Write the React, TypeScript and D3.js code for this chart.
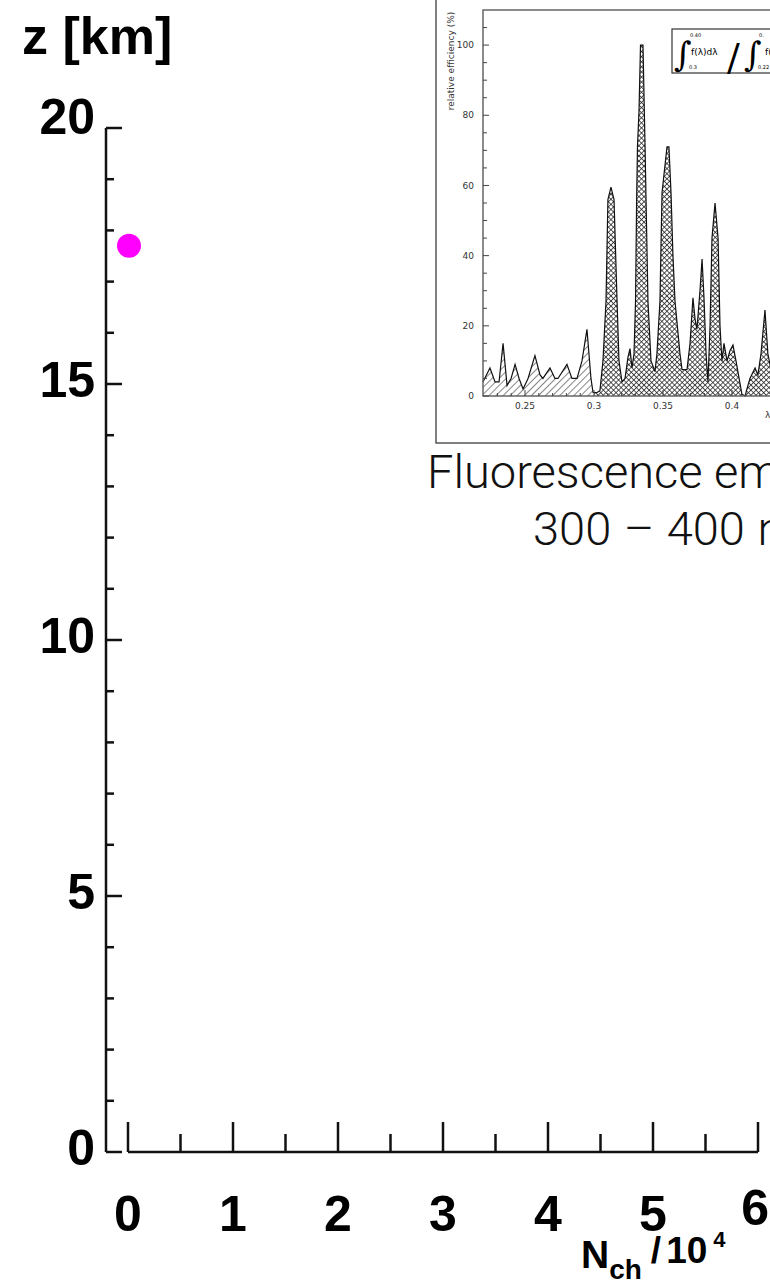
import React, { useEffect, useRef } from "react";
import * as d3 from "d3";

// main chart: altitude vs number of Cherenkov photons
const nchTicks = [0, 1, 2, 3, 4, 5, 6];
const zTicks = [0, 5, 10, 15, 20];
const pointNch = [0.0];
const pointZ = [17.7];

// inset: nitrogen fluorescence spectrum (lambda in um, relative efficiency in %)
const specLambda = [
  0.2195, 0.2246, 0.2283, 0.2312, 0.2341, 0.237, 0.2399, 0.2428, 0.2457, 0.2486,
  0.2522, 0.2572, 0.2609, 0.263, 0.2681, 0.2717, 0.2739, 0.2804, 0.284, 0.2877,
  0.2913, 0.2949, 0.2978, 0.2993, 0.3022, 0.3043, 0.3065, 0.3087, 0.3101, 0.3123,
  0.3145, 0.3167, 0.3181, 0.3203, 0.3225, 0.3246, 0.3261, 0.3275, 0.329, 0.3301,
  0.3309, 0.3315, 0.3326, 0.3337, 0.3355, 0.337, 0.3377, 0.3391, 0.3413, 0.3442,
  0.3456, 0.3478, 0.3493, 0.3529, 0.3543, 0.3558, 0.3572, 0.3587, 0.3623, 0.3638,
  0.3674, 0.3696, 0.3717, 0.3732, 0.3746, 0.3768, 0.3783, 0.3797, 0.3812, 0.3826,
  0.3841, 0.3855, 0.3877, 0.3899, 0.3913, 0.3927, 0.3942, 0.3964, 0.3986, 0.4007,
  0.4029, 0.4072, 0.4094, 0.413, 0.4167, 0.4188, 0.421, 0.4239, 0.426, 0.429,
];
const specEff = [
  4, 8, 4, 4, 15, 3, 5, 9, 5, 2,
  5, 11.5, 6, 5, 8, 5, 5, 9, 5, 5,
  10, 19, 5, 1, 1, 1.5, 10, 27, 56, 59.5,
  56, 27, 10, 4, 5, 11, 13.5, 8, 12, 27,
  56, 71, 81, 100, 100, 71, 56, 27, 10, 7,
  12, 27, 58, 71, 71, 58, 40, 27, 12, 7.5,
  7.5, 15, 28, 22, 19, 30, 39, 28, 12, 4,
  20, 45, 55, 45, 20, 10, 15, 10, 13, 14.5,
  10, 0.5, 0, 5, 8, 6, 12, 24.5, 12, 6,
];
const effTicks = [0, 20, 40, 60, 80, 100];
const lambdaTicks = [0.25, 0.3, 0.35, 0.4];

export default function App() {
  const ref = useRef<SVGSVGElement | null>(null);

  useEffect(() => {
    const svg = d3.select(ref.current);
    svg.selectAll("*").remove();

    const x = d3.scaleLinear().domain([0, 6]).range([128, 758]);
    const y = d3.scaleLinear().domain([0, 20]).range([1152, 128]);

    const bold = "'Liberation Sans', Arial, sans-serif";

    // y axis
    const yAxisX = 106;
    svg.append("line")
      .attr("x1", yAxisX).attr("x2", yAxisX)
      .attr("y1", y(20)).attr("y2", y(0))
      .attr("stroke", "#111").attr("stroke-width", 2.5);
    svg.append("g")
      .selectAll("line")
      .data(d3.range(0, 21, 1))
      .join("line")
      .attr("x1", yAxisX)
      .attr("x2", d => yAxisX + (d % 5 === 0 ? 16 : 8))
      .attr("y1", d => y(d)).attr("y2", d => y(d))
      .attr("stroke", "#111").attr("stroke-width", 2.5);
    svg.append("g")
      .attr("font-family", bold).attr("font-weight", "bold")
      .attr("font-size", 50).attr("text-anchor", "end")
      .selectAll("text")
      .data(zTicks)
      .join("text")
      .attr("x", 95)
      .attr("y", d => y(d) - (d === 20 ? 12 : 5))
      .attr("dy", "0.35em")
      .text(d => d);

    // x axis
    svg.append("line")
      .attr("x1", x(0)).attr("x2", x(6))
      .attr("y1", y(0)).attr("y2", y(0))
      .attr("stroke", "#111").attr("stroke-width", 2.5);
    svg.append("g")
      .selectAll("line")
      .data(d3.range(0, 6.01, 0.5))
      .join("line")
      .attr("x1", d => x(d)).attr("x2", d => x(d))
      .attr("y1", y(0))
      .attr("y2", d => y(0) - (Number.isInteger(d) ? 30 : 18))
      .attr("stroke", "#111").attr("stroke-width", 2.5);
    svg.append("g")
      .attr("font-family", bold).attr("font-weight", "bold")
      .attr("font-size", 50)
      .selectAll("text")
      .data(nchTicks)
      .join("text")
      .attr("text-anchor", d => (d === 6 ? "end" : "middle"))
      .attr("x", d => (d === 6 ? 769 : x(d)))
      .attr("y", d => (d === 6 ? 1225 : 1231))
      .text(d => d);

    // axis titles
    svg.append("text")
      .attr("x", 22).attr("y", 54)
      .attr("font-family", bold).attr("font-weight", "bold")
      .attr("font-size", 52)
      .text("z [km]");

    const xt = svg.append("text")
      .attr("x", 581).attr("y", 1268)
      .attr("font-family", bold).attr("font-weight", "bold")
      .attr("font-size", 39);
    xt.append("tspan").text("N");
    xt.append("tspan").attr("font-size", 28).attr("dy", 11).text("ch");
    xt.append("tspan").attr("font-size", 37).attr("dy", -16).attr("dx", 9).text("/");
    xt.append("tspan").attr("font-size", 37).attr("dx", 5).text("10");
    xt.append("tspan").attr("font-size", 22).attr("dy", -16).attr("dx", 6).text("4");

    // data point
    svg.append("g")
      .selectAll("circle")
      .data(pointNch.map((n, i) => ({ n, z: pointZ[i] })))
      .join("circle")
      .attr("cx", d => x(d.n) + 1)
      .attr("cy", d => y(d.z))
      .attr("r", 12)
      .attr("fill", "#ff00ff");

    // ---- inset spectrum ----
    const xIn = d3.scaleLinear().domain([0.25, 0.4]).range([525, 732]);
    const yIn = d3.scaleLinear().domain([0, 110]).range([396, 10]);
    const left = 483;
    const insetFont = "'DejaVu Sans', sans-serif";

    const defs = svg.append("defs");
    const diag = defs.append("pattern")
      .attr("id", "diag").attr("patternUnits", "userSpaceOnUse")
      .attr("width", 5).attr("height", 5)
      .attr("patternTransform", "rotate(45)");
    diag.append("line")
      .attr("x1", 0).attr("y1", 0).attr("x2", 0).attr("y2", 5)
      .attr("stroke", "#333").attr("stroke-width", 1.2);
    const cross = defs.append("pattern")
      .attr("id", "cross").attr("patternUnits", "userSpaceOnUse")
      .attr("width", 3.6).attr("height", 3.6)
      .attr("patternTransform", "rotate(45)");
    cross.append("rect").attr("width", 3.6).attr("height", 3.6).attr("fill", "#fff");
    cross.append("line")
      .attr("x1", 0).attr("y1", 0).attr("x2", 0).attr("y2", 3.6)
      .attr("stroke", "#222").attr("stroke-width", 1.5);
    cross.append("line")
      .attr("x1", 0).attr("y1", 0).attr("x2", 3.6).attr("y2", 0)
      .attr("stroke", "#222").attr("stroke-width", 1.5);

    defs.append("clipPath").attr("id", "clipL")
      .append("rect")
      .attr("x", left).attr("y", 0)
      .attr("width", xIn(0.3) - left).attr("height", 400);
    defs.append("clipPath").attr("id", "clipR")
      .append("rect")
      .attr("x", xIn(0.3)).attr("y", 0)
      .attr("width", 400).attr("height", 400);

    // outer box
    svg.append("path")
      .attr("d", `M436,-2V443H790`)
      .attr("fill", "none").attr("stroke", "#555").attr("stroke-width", 1.5);

    const spec = specLambda.map((l, i) => ({ l, v: specEff[i] }));
    const area = d3.area<{ l: number; v: number }>()
      .x(d => xIn(d.l)).y0(yIn(0)).y1(d => yIn(d.v));
    const line = d3.line<{ l: number; v: number }>()
      .x(d => xIn(d.l)).y(d => yIn(d.v));

    svg.append("path").datum(spec)
      .attr("clip-path", "url(#clipL)")
      .attr("fill", "url(#diag)").attr("d", area);
    svg.append("path").datum(spec)
      .attr("clip-path", "url(#clipR)")
      .attr("fill", "url(#cross)").attr("d", area);
    svg.append("path").datum(spec)
      .attr("fill", "none").attr("stroke", "#111").attr("stroke-width", 1.2)
      .attr("d", line);

    // inset frame
    svg.append("path")
      .attr("d", `M790,${yIn(110)}H${left}V${yIn(0)}H790`)
      .attr("fill", "none").attr("stroke", "#666").attr("stroke-width", 1.5);

    svg.append("g")
      .selectAll("line")
      .data(d3.range(0, 110, 5))
      .join("line")
      .attr("x1", left).attr("x2", d => left + (d % 20 === 0 ? 6 : 4))
      .attr("y1", d => yIn(d)).attr("y2", d => yIn(d))
      .attr("stroke", "#444").attr("stroke-width", 1);
    svg.append("g")
      .selectAll("line")
      .data(d3.range(0.23, 0.431, 0.01))
      .join("line")
      .attr("x1", d => xIn(d)).attr("x2", d => xIn(d))
      .attr("y1", yIn(0))
      .attr("y2", d => yIn(0) - (Math.abs((d * 100) % 5) < 0.01 ? 6 : 3))
      .attr("stroke", "#444").attr("stroke-width", 1);

    svg.append("g")
      .attr("font-family", insetFont).attr("font-size", 9)
      .attr("fill", "#333").attr("text-anchor", "end")
      .selectAll("text")
      .data(effTicks)
      .join("text")
      .attr("x", 474).attr("y", d => yIn(d)).attr("dy", "0.35em")
      .text(d => d);
    svg.append("g")
      .attr("font-family", insetFont).attr("font-size", 9)
      .attr("fill", "#333").attr("text-anchor", "middle")
      .selectAll("text")
      .data(lambdaTicks)
      .join("text")
      .attr("x", d => xIn(d)).attr("y", 409)
      .text(d => d);
    svg.append("text")
      .attr("transform", "translate(454,61) rotate(-90)")
      .attr("text-anchor", "middle")
      .attr("font-family", insetFont).attr("font-size", 9).attr("fill", "#333")
      .text("relative efficiency (%)");
    svg.append("text")
      .attr("x", 765).attr("y", 418)
      .attr("font-family", insetFont).attr("font-size", 9).attr("fill", "#333")
      .text("λ (μm)");

    // formula box
    const fb = svg.append("g");
    fb.append("rect")
      .attr("x", 672).attr("y", 29).attr("width", 140).attr("height", 44)
      .attr("fill", "#fff").attr("stroke", "#333").attr("stroke-width", 1.2);
    const serif = "'DejaVu Serif', serif";
    fb.append("text").attr("x", 674).attr("y", 66)
      .attr("font-family", serif).attr("font-size", 34).text("∫");
    fb.append("text").attr("x", 690).attr("y", 37)
      .attr("font-family", insetFont).attr("font-size", 5).text("0.40");
    fb.append("text").attr("x", 689).attr("y", 69)
      .attr("font-family", insetFont).attr("font-size", 5).text("0.3");
    fb.append("text").attr("x", 691).attr("y", 55)
      .attr("font-family", insetFont).attr("font-size", 9).text("f(λ)dλ");
    fb.append("text").attr("x", 727).attr("y", 70)
      .attr("font-family", serif).attr("font-size", 38).attr("font-weight", 300).text("/");
    fb.append("text").attr("x", 744).attr("y", 66)
      .attr("font-family", serif).attr("font-size", 34).text("∫");
    fb.append("text").attr("x", 759).attr("y", 37)
      .attr("font-family", insetFont).attr("font-size", 5).text("0.");
    fb.append("text").attr("x", 758).attr("y", 69)
      .attr("font-family", insetFont).attr("font-size", 5).text("0.22");
    fb.append("text").attr("x", 765).attr("y", 55)
      .attr("font-family", insetFont).attr("font-size", 9).text("f(λ)dλ");

    // caption
    const cap = svg.append("g")
      .attr("font-family", "Roboto, 'Open Sans', Lato, sans-serif")
      .attr("font-weight", 300).attr("font-size", 47).attr("fill", "#111");
    cap.append("text").attr("x", 427).attr("y", 488).text("Fluorescence emission");
    cap.append("text").attr("x", 533).attr("y", 545).attr("word-spacing", 1).text("300 – 400 nm");
  }, []);

  return (
    <svg
      ref={ref}
      width={770}
      height={1284}
      style={{ position: "absolute", left: 0, top: 0, background: "#fff" }}
    />
  );
}
